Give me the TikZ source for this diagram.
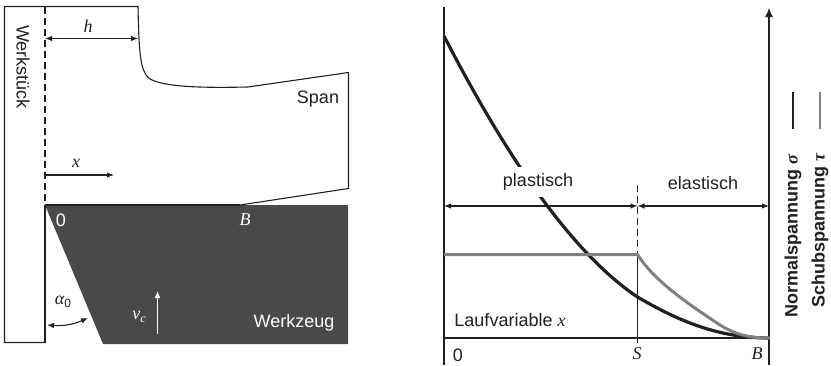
\documentclass[tikz,border=0pt]{standalone}
\usepackage{fontspec}
\setmainfont{Liberation Sans}
\usetikzlibrary{arrows.meta}
\newfontfamily\mathish{Liberation Serif}
\newcommand{\mv}[1]{{\mathish\itshape #1}}
\definecolor{tooldark}{HTML}{48494B}
\definecolor{inkc}{HTML}{231F20}
\definecolor{greyc}{HTML}{808080}
\tikzset{
  x=1pt,y=-1pt,
  ln/.style={draw=inkc,line width=1.1pt},
  dim/.style={ln,{Latex[length=7pt,width=5.5pt]}-{Latex[length=7pt,width=5.5pt]}},
  arr/.style={ln,-{Latex[length=7pt,width=5.5pt]}},
  dsh/.style={ln,dash pattern=on 7pt off 4pt},
  lbl/.style={inner sep=0pt,text=inkc,font=\fontsize{18}{20}\selectfont},
  wlbl/.style={lbl,text=white},
  blbl/.style={lbl,font=\fontsize{18}{20}\bfseries\selectfont}
}
\begin{document}
\begin{tikzpicture}
\useasboundingbox (0,0) rectangle (831,365);
% tool
\fill[tooldark] (45,205) -- (348,205) -- (348,344) -- (103,344) -- cycle;
\coordinate (bpt) at (240,205);
% workpiece + chip
\draw[ln] (45,342.5) -- (4.5,342.5) -- (4.5,6.5) -- (138,6.5)
  .. controls (138.5,30) and (139,52) .. (142,65)
  .. controls (144,73) and (147,77) .. (150,79)
  .. controls (165,87) and (200,88) .. (248,87)
  -- (348.5,72.5) -- (348.5,188.5) -- (bpt);
\draw[ln] (45,205) -- (bpt);
\draw[dsh] (45,6.5) -- (45,205);
\draw[ln] (45,205) -- (45,342.5);
\node[lbl,rotate=-90] (werk) at (23,67) {Werkstück};
\node[lbl] (span) at (318,99) {Span};
\coordinate (hl) at (45,38.5); \coordinate (hr) at (138,38.5);
\draw[dim] (hl) -- (hr);
\node[lbl] (h) at (88,26) {\mv{h}};
\coordinate (xl) at (45,175); \coordinate (xr) at (114,175);
\draw[arr] (xl) -- (xr);
\node[lbl] (x) at (76,163) {\mv{x}};
\node[wlbl] (zero) at (61,220) {0};
\node[wlbl] (b) at (245,220) {\mv{B}};
\node[wlbl] (werkz) at (294,323) {Werkzeug};
\coordinate (va) at (157.5,334); \coordinate (vb) at (157.5,291);
\draw[draw=white,line width=1.1pt,-{Latex[length=7pt,width=6pt]}] (va) -- (vb);
\node[wlbl] (vc) at (139,317) {\mv{v}\raisebox{-3pt}{\fontsize{12}{13}\selectfont\mv{c}}};
\coordinate (al) at (47,325); \coordinate (ar) at (88,318);
\draw[dim] (al) to[bend right=14] (ar);
\node[lbl] (alpha) at (63,302) {\mv{α}\raisebox{-3pt}{\fontsize{12}{13}\selectfont 0}};
% right diagram
\coordinate (ytop) at (444,7); \coordinate (ybot) at (444,365);
\coordinate (atop) at (769,8); \coordinate (abot) at (769,365);
\draw[ln] (ytop) -- (ybot);
\draw[ln,-{Latex[length=9pt,width=8pt]}] (abot) -- (atop);
\draw[draw=inkc,line width=1.4pt] (444,338) -- (769,338);
\coordinate (stop) at (637.5,185); \coordinate (smid) at (637.5,254); \coordinate (sbot) at (637.5,343);
\draw[dsh] (stop) -- (smid);
\draw[ln] (smid) -- (sbot);
% curves
\draw[draw=inkc,line width=3.2pt] (444,36)
  .. controls (490,125) and (560,245) .. (637.5,297)
  .. controls (680,322) and (720,338) .. (769,338);
\draw[draw=greyc,line width=3pt] (444,254.5) -- (637.5,254.5)
  .. controls (655,282) and (690,305) .. (720,325)
  .. controls (738,336) and (752,338) .. (770,338);
\coordinate (pl) at (444,206); \coordinate (pr) at (637.5,206); \coordinate (el) at (769,206);
\draw[dim] (pl) -- (pr);
\draw[dim] (pr) -- (el);
\node[lbl,fill=white,inner xsep=1pt,minimum height=30pt] (plast) at (538,182) {plastisch};
\node[lbl] (elast) at (703,183) {elastisch};
\node[lbl] (lauf) at (510,320) {Laufvariable \mv{x}};
\node[lbl] (n0) at (458,355.5) {0};
\node[lbl] (s) at (637,354) {\mv{S}};
\node[lbl] (bb) at (757,354) {\mv{B}};
\node[blbl,rotate=90,anchor=west] (ns) at (793,317.5) {Normalspannung \mv{σ}};
\node[blbl,rotate=90,anchor=west] (ss) at (820,307.5) {Schubspannung \mv{τ}};
\coordinate (l1a) at (793,129); \coordinate (l1b) at (793,92);
\coordinate (l2a) at (820,129); \coordinate (l2b) at (820,92);
\draw[draw=inkc,line width=1.2pt] (l1a) -- (l1b);
\draw[draw=greyc,line width=1.2pt] (l2a) -- (l2b);
\end{tikzpicture}
\end{document}
